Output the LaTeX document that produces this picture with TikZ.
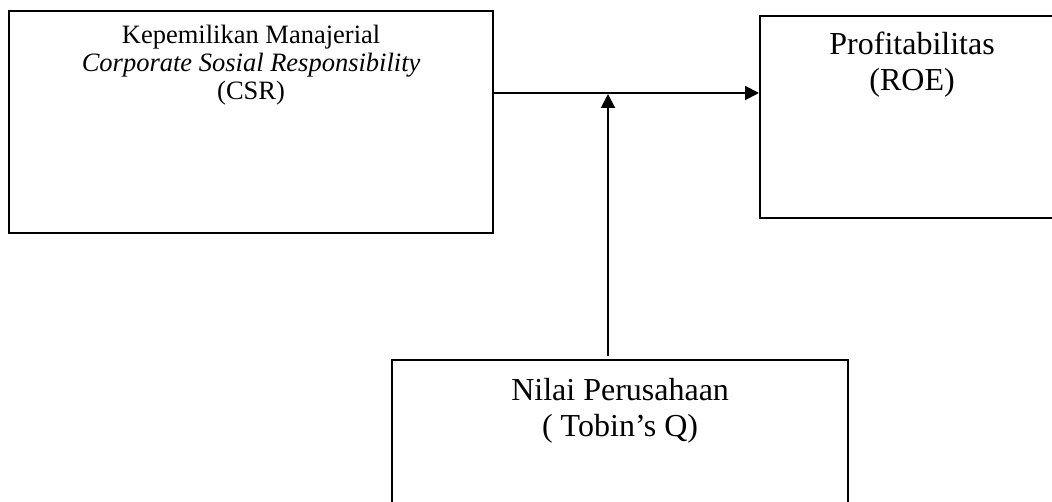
\documentclass[tikz,border=0pt]{standalone}
\usepackage{fontspec}
\setmainfont{Liberation Serif}
\usetikzlibrary{arrows.meta,positioning}
\tikzset{
  box/.style    = {draw, line width=2.2pt, rectangle, inner sep=0pt},
  boxtxt/.style = {inner sep=0pt, align=center},
  arr/.style    = {line width=2pt, -{Triangle[length=14pt,width=14pt]}},
}

\begin{document}
\begin{tikzpicture}[x=1pt, y=1pt]

% ── Frame: 1052 x 502, boxes run past the right and lower edges ──
\useasboundingbox (0,0) rectangle (1052,-502);
\clip (0,0) rectangle (1052,-502);

% ── Left box: ownership and CSR ──────────────────────────────
\node[box, anchor=north west, minimum width=484pt, minimum height=222pt]
  (km) at (8,-10) {};
\node[boxtxt, font=\fontsize{26.5}{28}\selectfont, below=15pt of km.north] (kmtxt)
  {Kepemilikan Manajerial\\
   \textit{Corporate Sosial Responsibility}\\
   (CSR)};

% ── Right box: profitability ─────────────────────────────────
\node[box, anchor=north west, minimum width=304pt, minimum height=202pt]
  (roe) at (759,-15) {};
\node[boxtxt, font=\fontsize{32}{36}\selectfont, below=17pt of roe.north] (roetxt)
  {Profitabilitas\\
   (ROE)};

% ── Bottom box: firm value (moderator) ───────────────────────
\node[box, anchor=north west, minimum width=456pt, minimum height=200pt]
  (nilai) at (391,-359) {};
\node[boxtxt, font=\fontsize{32}{36}\selectfont, below=19pt of nilai.north] (nilaitxt)
  {Nilai Perusahaan\\
   ( Tobin’s Q)};

% ── Connectors ───────────────────────────────────────────────
\draw[arr] (km.east |- 0,-93) -- (roe.west |- 0,-93);
\coordinate (joint) at (608,-94);
\draw[arr, shorten <=3pt] (nilai.north -| joint) -- (joint);

\end{tikzpicture}
\end{document}
